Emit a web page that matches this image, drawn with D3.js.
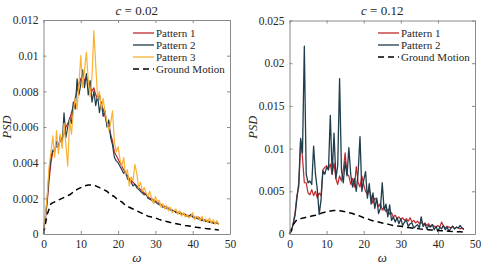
<!DOCTYPE html>
<meta charset="utf-8">
<body style="margin:0">
<script src="https://d3js.org/d3.v7.min.js"></script>
<script>
var width = 500;
var height = 266;
var serif = "Times New Roman, Liberation Serif, DejaVu Serif, serif";

// sampling grids (omega)
var omega = d3.range(0, 47.5, 0.5);
var omegaGM = d3.range(0, 48, 1);

// PSD values, in units of 1e-3
var gm = [0, 1.1, 1.7, 1.8, 1.9, 2.0, 2.1, 2.2, 2.35, 2.5, 2.6, 2.7, 2.75, 2.75, 2.7, 2.6,
  2.5, 2.4, 2.2, 2.1, 1.9, 1.8, 1.6, 1.5, 1.4, 1.3, 1.2, 1.1, 1.0, 0.95, 0.9, 0.82,
  0.75, 0.7, 0.65, 0.6, 0.56, 0.52, 0.48, 0.45, 0.42, 0.38, 0.35, 0.32, 0.3, 0.27, 0.25, 0.22];

var left1 = [0.2, 0.8, 1.8, 3.0, 4.0, 4.6, 4.8, 4.9, 5.0, 5.2, 5.4, 5.6, 6.0, 6.2, 6.4, 6.8,
  7.2, 7.6, 8.0, 8.4, 8.7, 8.9, 8.6, 8.8, 8.5, 8.3, 8.0, 8.2, 7.8, 7.6, 7.8, 7.2,
  7.0, 6.6, 6.2, 6.0, 5.6, 5.2, 4.6, 4.4, 4.2, 4.0, 3.8, 3.6, 3.4, 3.3, 3.1, 3.0,
  2.9, 2.8, 2.7, 2.6, 2.5, 2.4, 2.3, 2.2, 2.1, 2.0, 2.0, 1.9, 1.85, 1.8, 1.7, 1.65,
  1.6, 1.55, 1.5, 1.45, 1.4, 1.35, 1.3, 1.25, 1.2, 1.25, 1.15, 1.1, 1.1, 1.05, 1.0, 1.05,
  1.0, 0.95, 0.9, 0.95, 0.85, 0.85, 0.8, 0.75, 0.75, 0.7, 0.7, 0.65, 0.65, 0.6, 0.55];

var left2 = [0.2, 0.9, 2.0, 3.4, 4.3, 4.7, 4.6, 5.2, 4.8, 5.5, 5.0, 6.8, 5.4, 6.0, 6.5, 6.2,
  7.4, 7.0, 8.7, 7.8, 8.4, 9.2, 8.2, 9.0, 7.8, 8.6, 7.4, 8.0, 7.2, 7.8, 6.8, 7.4,
  6.6, 6.9, 6.0, 6.4, 5.4, 5.0, 4.3, 4.1, 4.0, 3.8, 3.6, 3.4, 3.5, 3.1, 3.0, 2.9,
  2.7, 2.8, 2.6, 2.5, 2.4, 2.3, 2.2, 2.25, 2.0, 1.95, 1.9, 1.8, 1.8, 1.7, 1.65, 1.6,
  1.5, 1.5, 1.45, 1.4, 1.35, 1.3, 1.3, 1.2, 1.2, 1.15, 1.1, 1.15, 1.05, 1.0, 1.0, 1.1,
  0.95, 0.9, 0.9, 0.85, 0.8, 0.75, 0.8, 0.7, 0.7, 0.65, 0.7, 0.6, 0.6, 0.65, 0.55];

var left3 = [0.3, 1.0, 2.2, 3.8, 4.6, 5.5, 4.3, 5.8, 4.5, 5.6, 4.8, 6.2, 5.0, 3.8, 6.4, 5.6,
  6.9, 7.6, 7.0, 8.4, 10.0, 8.2, 9.2, 10.2, 8.6, 7.7, 8.8, 11.4, 9.5, 7.6, 8.0, 7.0,
  7.6, 6.8, 6.3, 5.8, 6.2, 6.9, 5.2, 4.6, 4.9, 4.2, 3.8, 4.3, 3.3, 3.6, 2.7, 3.2,
  3.0, 3.9, 3.4, 2.6, 2.9, 2.4, 2.6, 2.3, 2.1, 2.4, 2.0, 1.7, 2.1, 1.8, 1.9, 1.5,
  1.7, 1.4, 1.6, 1.3, 1.5, 1.2, 1.3, 1.4, 1.1, 1.3, 1.0, 1.2, 0.95, 1.1, 0.9, 1.0,
  1.2, 0.8, 1.0, 0.9, 0.75, 1.0, 0.7, 0.85, 0.65, 0.9, 0.6, 0.8, 0.55, 0.75, 0.5];

var right1 = [0.1, 0.3, 1.2, 2.5, 4.5, 5.5, 10.9, 9.0, 6.0, 6.0, 4.8, 4.6, 5.2, 4.5, 5.0, 4.2,
  4.8, 4.5, 7.5, 7.8, 8.0, 7.6, 8.2, 7.0, 8.3, 6.5, 5.8, 6.8, 6.2, 7.5, 9.5, 7.0,
  6.8, 5.8, 6.5, 5.5, 7.9, 6.0, 5.5, 6.8, 5.8, 5.0, 4.6, 5.2, 4.4, 3.6, 4.2, 4.0,
  3.2, 3.6, 2.8, 3.2, 2.6, 2.9, 2.3, 2.5, 2.0, 2.2, 1.8, 2.0, 1.7, 1.9, 1.6, 1.8,
  1.5, 1.9, 1.4, 1.6, 1.3, 1.5, 1.2, 1.4, 1.1, 1.3, 1.0, 1.2, 0.9, 1.1, 0.9, 0.8,
  1.0, 0.8, 1.4, 0.9, 0.7, 0.9, 0.8, 0.7, 0.9, 0.6, 0.8, 0.7, 0.6, 0.7, 0.5];

var right2 = [0.1, 0.3, 1.2, 2.2, 4.2, 6.0, 11.2, 9.5, 22.0, 7.0, 6.0, 6.2, 5.8, 10.3, 7.0, 5.2,
  2.3, 4.0, 7.4, 7.0, 7.8, 7.5, 13.9, 7.0, 11.8, 6.5, 8.0, 18.2, 7.5, 6.0, 8.5, 6.8,
  10.1, 7.0, 5.5, 6.5, 5.0, 7.2, 11.4, 5.0, 6.3, 7.3, 4.2, 5.9, 3.5, 4.8, 3.0, 4.2,
  2.4, 3.0, 6.0, 2.8, 3.5, 2.0, 3.4, 1.6, 2.0, 1.4, 1.9, 1.2, 1.8, 1.0, 1.4, 1.6,
  0.9, 1.2, 1.3, 0.7, 0.9, 1.1, 0.7, 2.0, 0.9, 1.2, 0.6, 1.0, 0.8, 1.1, 0.5, 0.9,
  0.3, 0.8, 0.6, 1.0, 0.5, 0.8, 0.3, 0.7, 0.9, 0.6, 0.8, 0.7, 1.0, 0.7, 0.6];

var xTicks = [0, 10, 20, 30, 40, 50];
var leftTicks = [0, 0.002, 0.004, 0.006, 0.008, 0.01, 0.012];
var rightTicks = [0, 0.005, 0.01, 0.015, 0.02, 0.025];

var colors = { p1: "#c0272d", p2: "#1f3d4c", p3: "#f9b233", gm: "#000" };

var svg = d3.select("body").append("svg")
  .attr("width", width)
  .attr("height", height)
  .attr("font-family", serif);

function toPts(xs, ys) {
  return ys.map(function(v, i) { return [xs[i], v / 1000]; });
}

function panel(opt) {
  var x = d3.scaleLinear().domain([0, 50]).range([opt.x0, opt.x1]);
  var y = d3.scaleLinear().domain([0, opt.ymax]).range([opt.y1, opt.y0]);
  var g = svg.append("g");

  var line = d3.line().x(function(d) { return x(d[0]); }).y(function(d) { return y(d[1]); });

  opt.series.forEach(function(s) {
    g.append("path")
      .datum(s.data)
      .attr("fill", "none")
      .attr("stroke", s.color)
      .attr("stroke-width", s.w)
      .attr("stroke-linejoin", "round")
      .attr("stroke-dasharray", s.dash || null)
      .attr("d", line);
  });

  // axes, ticks inward on all sides
  var ax = function(a) {
    a.attr("font-family", serif).attr("font-size", 11.5);
    a.select(".domain").attr("stroke", "#8a8a8a");
    a.selectAll(".tick line").attr("stroke", "#8a8a8a");
    a.selectAll(".tick text").attr("fill", "#262626");
  };
  g.append("g").attr("transform", "translate(0," + opt.y1 + ")")
    .call(d3.axisBottom(x).tickValues(xTicks).tickSizeInner(-3).tickSizeOuter(0).tickPadding(6))
    .call(ax);
  g.append("g").attr("transform", "translate(0," + opt.y0 + ")")
    .call(d3.axisTop(x).tickValues(xTicks).tickSizeInner(-3).tickSizeOuter(0).tickFormat(""))
    .call(ax);
  g.append("g").attr("transform", "translate(" + opt.x0 + ",0)")
    .call(d3.axisLeft(y).tickValues(opt.yTicks).tickSizeInner(-3).tickSizeOuter(0).tickPadding(5)
      .tickFormat(function(d) { return d === 0 ? "0" : String(+d.toFixed(4)); }))
    .call(ax);
  g.append("g").attr("transform", "translate(" + opt.x1 + ",0)")
    .call(d3.axisRight(y).tickValues(opt.yTicks).tickSizeInner(-3).tickSizeOuter(0).tickFormat(""))
    .call(ax);

  // title
  var t = g.append("text")
    .attr("x", (opt.x0 + opt.x1) / 2)
    .attr("y", 15)
    .attr("text-anchor", "middle")
    .attr("font-size", 13)
    .attr("fill", "#262626");
  t.append("tspan").attr("font-style", "italic").text("c");
  t.append("tspan").text(" = " + opt.c);

  // axis labels
  g.append("text")
    .attr("x", (opt.x0 + opt.x1) / 2)
    .attr("y", 262)
    .attr("text-anchor", "middle")
    .attr("font-style", "italic")
    .attr("font-size", 13)
    .attr("fill", "#262626")
    .text("ω");
  g.append("text")
    .attr("transform", "translate(" + (opt.x0 - 33) + "," + ((opt.y0 + opt.y1) / 2) + ") rotate(-90)")
    .attr("text-anchor", "middle")
    .attr("font-style", "italic")
    .attr("font-size", 12.5)
    .attr("fill", "#262626")
    .text("PSD");

  // legend
  var lg = g.append("g");
  opt.series.forEach(function(s, i) {
    var ly = 33 + i * 12;
    lg.append("line")
      .attr("x1", opt.lx).attr("x2", opt.lx + 21)
      .attr("y1", ly).attr("y2", ly)
      .attr("stroke", s.color)
      .attr("stroke-width", s.dash ? 1.5 : 1.3)
      .attr("stroke-dasharray", s.dash ? "6,4" : null);
    lg.append("text")
      .attr("x", opt.lx + 23)
      .attr("y", ly + 3.5)
      .attr("font-size", 11)
      .attr("fill", "#262626")
      .text(s.name);
  });
}

panel({
  x0: 43.5, x1: 230, y0: 20, y1: 234, ymax: 0.012, yTicks: leftTicks, c: "0.02", lx: 133,
  series: [
    { name: "Pattern 1", data: toPts(omega, left1), color: colors.p1, w: 1.2 },
    { name: "Pattern 2", data: toPts(omega, left2), color: colors.p2, w: 1.2 },
    { name: "Pattern 3", data: toPts(omega, left3), color: colors.p3, w: 1.2 },
    { name: "Ground Motion", data: toPts(omegaGM, gm), color: colors.gm, w: 1.5, dash: "6,4" }
  ]
});

panel({
  x0: 289.5, x1: 475, y0: 20.5, y1: 234, ymax: 0.025, yTicks: rightTicks, c: "0.12", lx: 378,
  series: [
    { name: "Pattern 1", data: toPts(omega, right1), color: colors.p1, w: 1.2 },
    { name: "Pattern 2", data: toPts(omega, right2), color: colors.p2, w: 1.3 },
    { name: "Ground Motion", data: toPts(omegaGM, gm), color: colors.gm, w: 1.5, dash: "6,4" }
  ]
});
</script>
</body>
